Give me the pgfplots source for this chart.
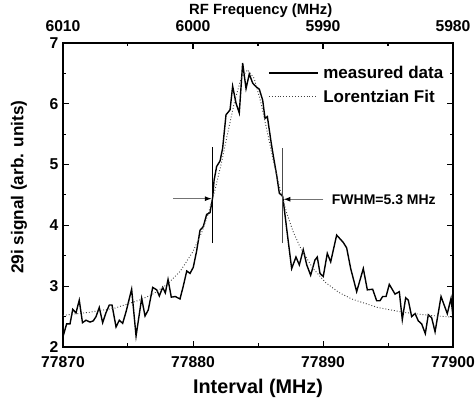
\documentclass[border=0pt]{standalone}
\usepackage{pgfplots}
\pgfplotsset{compat=1.18}
\usepackage{pgfplotstable}
\usepackage{fontspec}
\setmainfont{Liberation Sans}
\usetikzlibrary{arrows.meta}

\pgfplotstableread{
x y
77870.00 2.17
77870.28 2.38
77870.54 2.38
77870.75 2.62
77871.00 2.56
77871.25 2.77
77871.50 2.40
77871.77 2.44
77872.08 2.41
77872.33 2.43
77872.54 2.50
77872.79 2.65
77873.05 2.40
77873.30 2.56
77873.56 2.69
77873.77 2.69
77874.08 2.33
77874.33 2.44
77874.59 2.39
77874.85 2.58
77875.28 2.95
77875.62 2.18
77876.05 2.80
77876.31 2.51
77876.56 2.61
77876.90 2.98
77877.21 2.94
77877.41 2.84
77877.67 2.98
77877.87 2.89
77878.08 3.11
77878.33 2.82
77878.64 2.83
77879.00 2.79
77879.25 3.00
77879.52 3.25
77879.77 3.21
77880.02 3.31
77880.28 3.58
77880.54 3.92
77880.79 3.98
77881.05 4.18
77881.31 4.21
77881.52 4.47
77881.62 4.74
77881.82 4.97
77882.08 5.06
77882.28 5.27
77882.54 5.82
77882.85 5.90
77883.05 6.29
77883.31 6.01
77883.56 5.85
77883.82 6.67
77884.08 6.25
77884.33 6.49
77884.59 6.34
77884.85 6.28
77885.10 6.24
77885.36 6.06
77885.54 5.76
77885.72 5.79
77885.87 5.57
77886.02 5.35
77886.23 5.08
77886.44 4.82
77886.64 4.53
77886.90 4.48
77887.25 3.87
77887.59 3.29
77887.92 3.48
77888.18 3.35
77888.48 3.60
77888.75 3.35
77889.05 3.18
77889.38 3.43
77889.56 3.48
77889.77 3.21
77890.02 3.16
77890.33 3.54
77890.59 3.40
77891.05 3.84
77891.56 3.72
77891.82 3.63
77892.13 3.29
77892.59 2.91
77893.10 3.29
77893.41 2.94
77893.82 2.95
77894.13 2.76
77894.38 2.76
77894.59 2.83
77894.85 2.83
77895.10 3.03
77895.54 2.87
77895.87 2.91
77896.10 2.45
77896.36 2.81
77896.56 2.77
77896.82 2.50
77897.08 2.55
77897.33 2.43
77897.59 2.38
77897.87 2.22
77898.10 2.53
77898.36 2.48
77898.62 2.25
77899.08 2.83
77899.56 2.55
77899.85 2.80
77900.00 2.50
}\measured

\pgfplotstableread{
x y
77870.0 2.52
77872.0 2.57
77874.0 2.64
77876.0 2.78
77877.0 2.88
77878.0 3.03
77879.0 3.24
77880.0 3.57
77880.7 3.90
77881.2 4.21
77881.7 4.59
77882.2 5.04
77882.7 5.55
77883.2 6.04
77883.7 6.42
77884.2 6.56
77884.7 6.42
77885.2 6.04
77885.7 5.55
77886.2 5.04
77886.7 4.59
77887.2 4.21
77887.7 3.90
77888.2 3.66
77889.2 3.30
77890.2 3.06
77891.2 2.90
77892.2 2.79
77894.2 2.65
77896.2 2.57
77898.2 2.52
77900.0 2.49
}\lorentz

\begin{document}
\begin{tikzpicture}
\begin{axis}[
  scale only axis, width=390bp, height=304bp,
  xmin=77870, xmax=77900, ymin=2, ymax=7,
  xtick={77870,77880,77890,77900}, minor x tick num=1,
  ytick={2,3,4,5,6,7}, minor y tick num=1,
  tick align=inside,
  major tick length=6bp, minor tick length=3.5bp,
  scaled x ticks=false,
  /pgf/number format/1000 sep={},
  /pgf/number format/assume math mode=true,
  ticklabel style={font=\fontsize{15.7bp}{18bp}\selectfont\bfseries},
  xticklabel style={yshift=-6.5bp},
  yticklabel style={xshift=-1bp},
  xlabel={Interval (MHz)},
  xlabel style={font=\fontsize{19.8bp}{22bp}\selectfont\bfseries,
    at={(axis description cs:0.5,-0.135)}, anchor=center},
  ylabel={29i signal (arb. units)},
  ylabel style={font=\fontsize{17.2bp}{20bp}\selectfont\bfseries,
    at={(axis description cs:-0.113,0.526)}, anchor=center},
  axis line style={line width=1.3bp},
  every tick/.style={black, line width=1bp},
  legend style={at={(axis cs:77885.77,6.617)}, anchor=north west, draw=none, fill=none,
    inner sep=0pt, row sep=8bp, font=\fontsize{17bp}{20bp}\selectfont\bfseries,
    nodes={inner sep=0pt, text height=12bp, text depth=4bp},
    /tikz/every odd column/.append style={column sep=4.7bp}},
  legend cell align=left,
  legend image code/.code={\draw[#1] (0bp,1.6bp) -- (49bp,1.6bp);},
]
\coordinate (O) at (rel axis cs:0,0);
\addplot[black, line width=1.4bp] table[x=x,y=y] {\measured};
\addlegendentry{measured data}
\addplot[black!75, dotted, line width=0.9bp] table[x=x,y=y] {\lorentz};
\addlegendentry{Lorentzian Fit}
% FWHM markers
\draw[black, line width=1.1bp] (axis cs:77881.5,3.71) -- (axis cs:77881.5,5.29);
\draw[black!70, line width=1.1bp] (axis cs:77886.9,3.71) -- (axis cs:77886.9,5.28);
\draw[black!55, line width=1.2bp, -{Latex[black,length=7bp,width=5bp]}] (axis cs:77878.48,4.44) -- (axis cs:77881.45,4.44);
\draw[black!55, line width=1.2bp, -{Latex[black,length=7bp,width=5bp]}] (axis cs:77890.02,4.43) -- (axis cs:77886.95,4.43);
\node[anchor=west, inner sep=0pt, font=\fontsize{14bp}{16bp}\selectfont\bfseries] at (axis cs:77890.67,4.43) {FWHM=5.3 MHz};
\end{axis}
\begin{axis}[
  scale only axis, width=390bp, height=304bp,
  xmin=5980, xmax=6010, x dir=reverse, ymin=2, ymax=7,
  axis x line*=top, axis y line=none,
  xtick={5980,5990,6000,6010}, minor x tick num=1,
  tick align=inside,
  major tick length=6bp, minor tick length=3.5bp,
  /pgf/number format/1000 sep={},
  /pgf/number format/assume math mode=true,
  ticklabel style={font=\fontsize{15.7bp}{18bp}\selectfont\bfseries},
  xticklabel style={yshift=7.5bp},
  xlabel={RF Frequency (MHz)},
  xlabel style={font=\fontsize{14.8bp}{17bp}\selectfont\bfseries,
    at={(axis description cs:0.507,1.105)}, anchor=center},
  axis line style={line width=1.3bp},
  every tick/.style={black, line width=1bp},
]
\end{axis}
\pgfresetboundingbox
\path (O) ++(-63bp,-55bp) rectangle ++(476bp,402bp);
\end{tikzpicture}
\end{document}
